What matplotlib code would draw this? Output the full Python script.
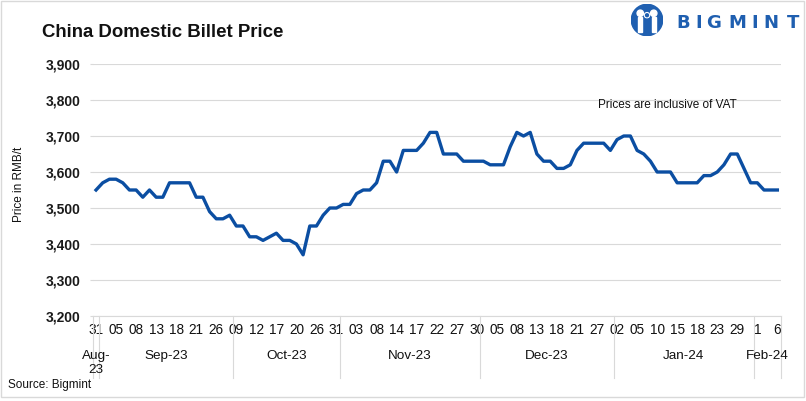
import matplotlib
matplotlib.use("Agg")
import matplotlib.pyplot as plt
import matplotlib.transforms as mtransforms
from matplotlib.patches import Rectangle, Circle
import numpy as np

# ---------------- data ----------------
prices = [3550, 3570, 3580, 3580, 3570, 3550, 3550, 3530, 3550, 3530,
          3530, 3570, 3570, 3570, 3570, 3530, 3530, 3490, 3470, 3470,
          3480, 3450, 3450, 3420, 3420, 3410, 3420, 3430, 3410, 3410,
          3400, 3370, 3450, 3450, 3480, 3500, 3500, 3510, 3510, 3540,
          3550, 3550, 3570, 3630, 3630, 3600, 3660, 3660, 3660, 3680,
          3710, 3710, 3650, 3650, 3650, 3630, 3630, 3630, 3630, 3620,
          3620, 3620, 3670, 3710, 3700, 3710, 3650, 3630, 3630, 3610,
          3610, 3620, 3660, 3680, 3680, 3680, 3680, 3660, 3690, 3700,
          3700, 3660, 3650, 3630, 3600, 3600, 3600, 3570, 3570, 3570,
          3570, 3590, 3590, 3600, 3620, 3650, 3650, 3610, 3570, 3570,
          3550, 3550, 3550]
day_labels = ["31", "05", "08", "13", "18", "21", "26", "09", "12", "17", "20",
              "26", "31", "03", "08", "14", "17", "22", "27", "30", "05", "08",
              "13", "18", "21", "27", "02", "05", "10", "15", "18", "23", "29",
              "1", "6"]
label_every = 3
months = ["Aug-\n23", "Sep-23", "Oct-23", "Nov-23", "Dec-23", "Jan-24", "Feb-24"]
month_counts = [1, 20, 16, 21, 20, 21, 4]
y_ticks = [3200, 3300, 3400, 3500, 3600, 3700, 3800, 3900]

# ---------------- figure ----------------
W, H = 806, 401
fig = plt.figure(figsize=(W / 100, H / 100), dpi=100)
plt.rcParams['font.family'] = ['Liberation Sans', 'DejaVu Sans']

def fx(px):
    return px / W

def fy(py):
    return 1 - py / H

left, right, top, bottom = 92.7, 780.7, 64, 316
ax = fig.add_axes([fx(left), fy(bottom), fx(right - left), (bottom - top) / H])

n = len(prices)
x = np.arange(n)
ax.plot(x, prices, color="#0b4ea2", lw=2.4, solid_joinstyle="round", zorder=3)

ax.set_xlim(-0.5, n - 0.5)
ax.set_ylim(3200, 3900)
ax.set_yticks(y_ticks)
ax.set_yticklabels([f"{v:,}" for v in y_ticks], fontweight="bold", fontsize=10, color="#1a1a1a")
ax.yaxis.grid(True, color="#d9d9d9", lw=0.8)
ax.set_axisbelow(True)
ax.tick_params(axis="y", length=2.5, color="#d9d9d9", pad=6.3)

tick_pos = list(range(0, n, label_every))
ax.set_xticks(tick_pos)
ax.set_xticklabels(day_labels, fontsize=9.8, color="#111111")
ax.tick_params(axis="x", length=0, pad=5)

for s in ["top", "right", "left"]:
    ax.spines[s].set_visible(False)
ax.spines["bottom"].set_color("#d9d9d9")
ax.spines["bottom"].set_linewidth(0.8)

# month group labels and separators
trans = mtransforms.blended_transform_factory(ax.transData, ax.transAxes)
ph = bottom - top
sep_bottom = -(378 - bottom) / ph
start = 0
bounds = [-0.5]
for name, cnt in zip(months, month_counts):
    center = start + (cnt - 1) / 2
    lines = name.split("\n")
    for k, ln in enumerate(lines):
        ax.text(center, -(359 + 14 * k - bottom) / ph, ln, transform=trans,
                ha="center", va="baseline", fontsize=9.7, color="#111111")
    start += cnt
    bounds.append(start - 0.5)
for b in bounds:
    ax.plot([b, b], [0, sep_bottom], transform=trans, color="#d9d9d9", lw=0.8,
            clip_on=False)

# texts
fig.text(fx(42), fy(37), "China Domestic Billet Price", fontsize=13.4, fontweight="bold",
         color="#111111", ha="left", va="baseline")
fig.text(fx(19), fy(184), "Price in RMB/t", rotation=90, fontsize=8.5, color="#111111",
         ha="center", va="center")
fig.text(fx(667), fy(108), "Prices are inclusive of VAT", fontsize=8.5, color="#111111",
         ha="center", va="baseline")
fig.text(fx(8), fy(388), "Source: Bigmint", fontsize=8.5, color="#111111",
         ha="left", va="baseline")

# border
fig.patches.append(Rectangle((fx(0.5), fy(396.5)), fx(803.5), 396 / H,
                             transform=fig.transFigure, fill=False,
                             edgecolor="#d9d9d9", lw=1))

# logo
logo_letters = ["B", "I", "G", "M", "I", "N", "T"]
logo_x = [683.5, 698.5, 714, 737, 755, 770.5, 793.5]
for ch, lx in zip(logo_letters, logo_x):
    fig.text(fx(lx), fy(28), ch, fontsize=13, fontweight="bold", color="#1f5fb0",
             family="DejaVu Sans", ha="center", va="baseline")

lax = fig.add_axes([fx(631), fy(36), 32 / W, 32 / H])
lax.set_xlim(-1, 1)
lax.set_ylim(-1, 1)
lax.set_aspect("equal")
lax.axis("off")
lax.add_patch(Circle((0, 0), 0.98, color="#1f5fb0"))
for cx in (-0.42, 0.42):
    lax.add_patch(Circle((cx, 0.42), 0.2, color="white"))
    lax.add_patch(Rectangle((cx - 0.13, -0.75), 0.26, 0.95, color="white"))
lax.add_patch(Circle((0, 0.3), 0.17, color="#1f5fb0", ec="white", lw=0.8))
lax.add_patch(Rectangle((-0.1, -0.85), 0.2, 0.9, color="#1f5fb0"))

fig.savefig("out.png", dpi=100)
